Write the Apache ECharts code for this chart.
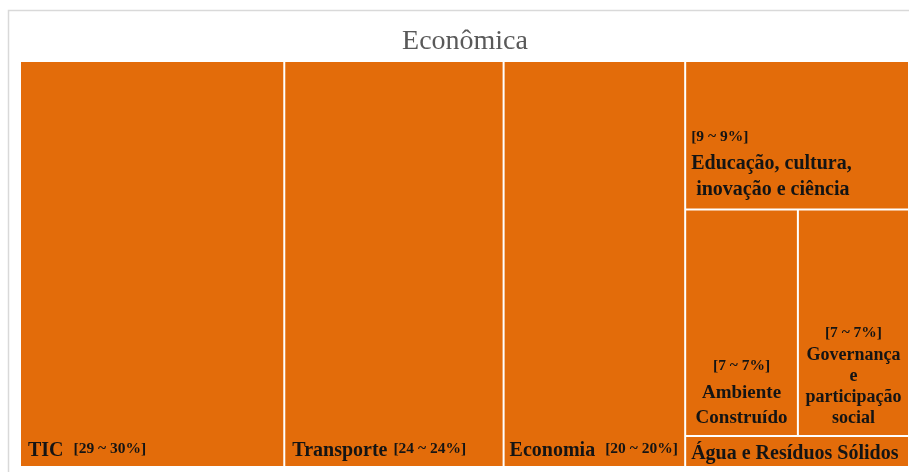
<!DOCTYPE html>
<html>
<head>
<meta charset="utf-8">
<script src="https://cdn.jsdelivr.net/npm/echarts@6/dist/echarts.min.js"></script>
<style>
  html, body { margin: 0; padding: 0; background: #ffffff; }
  #chart { width: 909px; height: 472px; }
</style>
</head>
<body>
<div id="chart"></div>
<script>
// Shares per theme (percent) and the ranges shown on the labels
const titleText = 'Econômica';
const mainNames = ['TIC', 'Transporte', 'Economia'];
const mainValues = [29.4, 24.4, 20.2];
const mainRanges = ['[29 ~ 30%]', '[24 ~ 24%]', '[20 ~ 20%]'];

const sideNames = ['Educação, cultura, inovação e ciência', 'Ambiente Construído', 'Governança e participação social', 'Água e Resíduos Sólidos'];
const sideValues = [9.1, 7.0, 6.9, 1.9];
const sideRanges = ['[9 ~ 9%]', '[7 ~ 7%]', '[7 ~ 7%]', ''];

const ORANGE = '#E36C0A';
const INK = '#141414';
const FONT = '"Liberation Serif", "Times New Roman", serif';

const rich = {
  n:  { fontFamily: FONT, fontSize: 20, fontWeight: 'bold', color: INK, lineHeight: 26 },
  na: { fontFamily: FONT, fontSize: 20, fontWeight: 'bold', color: INK, lineHeight: 22 },
  v:  { fontFamily: FONT, fontSize: 15.5, fontWeight: 'bold', color: INK, lineHeight: 26, padding: [0, 0, 4, 0] },
  ve: { fontFamily: FONT, fontSize: 15.5, fontWeight: 'bold', color: INK, lineHeight: 28 },
  nc: { fontFamily: FONT, fontSize: 19, fontWeight: 'bold', color: INK, lineHeight: 25, align: 'center' },
  vc: { fontFamily: FONT, fontSize: 15.5, fontWeight: 'bold', color: INK, lineHeight: 28, align: 'center' },
  ng: { fontFamily: FONT, fontSize: 18, fontWeight: 'bold', color: INK, lineHeight: 21, align: 'center' },
  vg: { fontFamily: FONT, fontSize: 15.5, fontWeight: 'bold', color: INK, lineHeight: 22, align: 'center' }
};

// Labels of the wide cells sit along the bottom edge: anchor at the
// bottom and lift by the height of the text block.
const labelX = [2, 2, 0];
const gapWidths = [10, 6, 10];
const mainItems = mainNames.map((name, i) => ({
  name: name,
  value: mainValues[i],
  label: {
    position: [labelX[i], '100%'],
    offset: [0, -33],
    formatter: '{n|' + name + '}{v|' + mainRanges[i] + '}',
    rich: { v: { padding: [0, 0, 4, gapWidths[i]] } }
  }
}));

// Right-hand column: text boxes kept inside their own cells (top padding
// pushes the text down) so that neighbouring labels never overlap.
const sideLabels = [
  { position: [0, 56], formatter: '{ve|' + sideRanges[0] + '}\n{n|Educação, cultura,}\n{n| inovação e ciência}' },
  { position: [0, 0], padding: [142, 0, 0, 0], formatter: '{vc|' + sideRanges[1] + '}\n{nc|Ambiente}\n{nc|Construído}' },
  { position: [0, 0], padding: [112, 0, 0, 0], formatter: '{vg|' + sideRanges[2] + '}\n{ng|Governança}\n{ng|e}\n{ng|participação}\n{ng|social}' },
  { position: [0, 0], padding: [6, 0, 0, 5], formatter: '{na|Água e Resíduos Sólidos}' }
];
const sideItems = sideNames.map((name, i) => ({
  name: name,
  value: sideValues[i],
  label: sideLabels[i]
}));

const sum = arr => arr.reduce((a, b) => a + b, 0);

// Economia and the right-hand column share one block
const data = [
  mainItems[0],
  mainItems[1],
  {
    name: 'Economia e demais',
    value: mainValues[2] + sum(sideValues),
    label: { show: false },
    children: [
      mainItems[2],
      { name: 'Demais', value: sum(sideValues), label: { show: false }, children: sideItems }
    ]
  }
];

const chart = echarts.init(document.getElementById('chart'), null, { renderer: 'canvas' });
chart.setOption({
  backgroundColor: '#ffffff',
  animation: false,
  title: {
    text: titleText,
    left: 460,
    textAlign: 'center',
    top: 23,
    textStyle: { fontFamily: FONT, fontSize: 28, fontWeight: 'normal', color: '#595959' }
  },
  graphic: [{
    type: 'rect',
    shape: { x: 8.5, y: 10.5, width: 920, height: 480 },
    style: { fill: 'none', stroke: '#d9d9d9', lineWidth: 1.5 },
    silent: true
  }],
  series: [{
    type: 'treemap',
    left: 21,
    top: 62,
    width: 887,
    height: 404,
    sort: false,
    squareRatio: 1.15,
    roam: false,
    nodeClick: false,
    breadcrumb: { show: false },
    label: { show: true, rich: rich, overflow: 'none' },
    upperLabel: { show: false },
    itemStyle: { color: ORANGE, borderColor: '#ffffff', borderWidth: 0, gapWidth: 2 },
    levels: [
      { itemStyle: { borderWidth: 0, gapWidth: 2 } },
      { itemStyle: { borderWidth: 0, gapWidth: 2, color: ORANGE } },
      { itemStyle: { borderWidth: 0, gapWidth: 2, color: ORANGE } },
      { itemStyle: { borderWidth: 0, gapWidth: 2, color: ORANGE } }
    ],
    data: data
  }]
});
</script>
</body>
</html>
